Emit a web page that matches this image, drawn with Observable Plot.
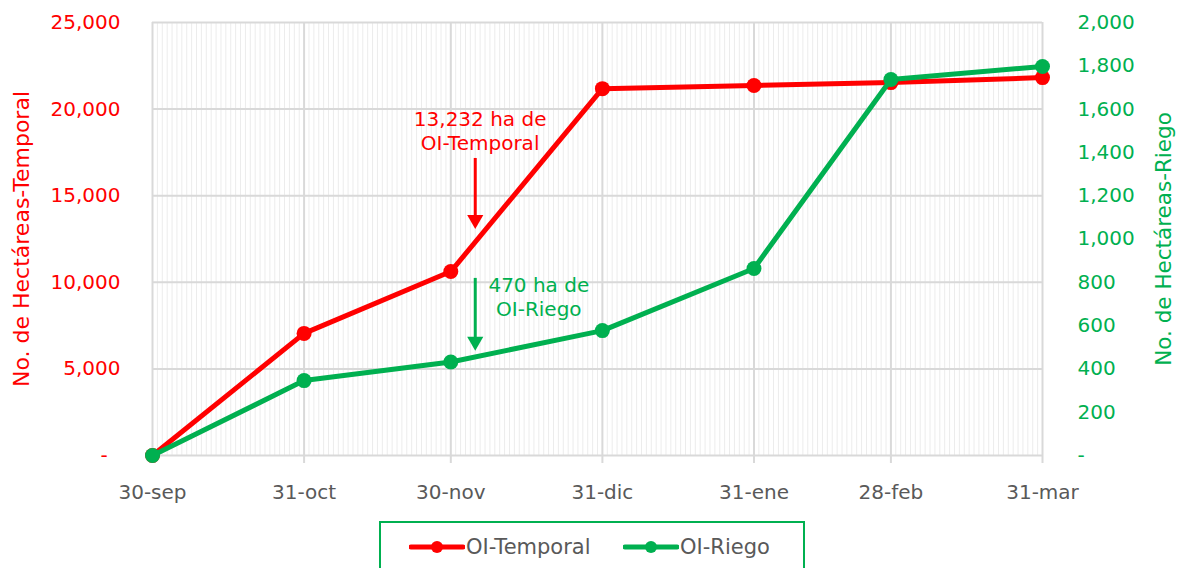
<!DOCTYPE html>
<html>
<head>
<meta charset="utf-8">
<script src="https://cdn.jsdelivr.net/npm/d3@7"></script>
<script src="https://cdn.jsdelivr.net/npm/@observablehq/plot@0.6"></script>
<style>
  html, body { margin: 0; padding: 0; background: #fff; }
  #wrap { position: relative; width: 1178px; height: 568px; overflow: hidden; font-family: "DejaVu Sans", sans-serif; }
  #legend { position: absolute; left: 379px; top: 521px; width: 426px; height: 60px; border: 2px solid #00b050; box-sizing: border-box; background: #fff; }
  .item { position: absolute; top: 12px; display: flex; align-items: center; font-size: 21px; color: #595959; }
  .item svg { margin-right: 1px; }
</style>
</head>
<body>
<div id="wrap"><div id="chart"></div><div id="legend"></div></div>
<script>
// ---- data ----
const dates = ["2022-09-30", "2022-10-31", "2022-11-30", "2022-12-31", "2023-01-31", "2023-02-28", "2023-03-31"];
const xTickLabels = ["30-sep", "31-oct", "30-nov", "31-dic", "31-ene", "28-feb", "31-mar"];
const temporal = [0, 7050, 10620, 21180, 21360, 21530, 21820];
const riego = [0, 346, 432, 577, 864, 1737, 1797];
const leftTicks = [0, 5000, 10000, 15000, 20000, 25000];
const rightTicks = [0, 200, 400, 600, 800, 1000, 1200, 1400, 1600, 1800, 2000];
const seriesNames = ["OI-Temporal", "OI-Riego"];
const axisTitles = ["No. de Hectáreas-Temporal", "No. de Hectáreas-Riego"];
// annotations (date, value on own series scale)
const annTemporal = { text: "13,232 ha de\nOI-Temporal", date: "2022-12-06", value: 18790, arrowDate: "2022-12-05", from: 17150, to: 13100 };
const annRiego = { text: "470 ha de\nOI-Riego", date: "2022-12-18", value: 735, arrowDate: "2022-12-05", from: 818, to: 485 };

const RED = "#ff0000", GREEN = "#00b050", GRID = "#d9d9d9", TXT = "#595959";
const ratio = leftTicks[leftTicks.length - 1] / rightTicks[rightTicks.length - 1];
const parse = d3.utcParse("%Y-%m-%d");
const dateObjs = dates.map(parse);
const labelOf = new Map(dateObjs.map((d, i) => [+d, xTickLabels[i]]));
const fmt = d3.format(",");
const tickFmt = v => v === 0 ? "-\u00a0\u00a0" : fmt(v);

const tData = dateObjs.map((d, i) => ({ date: d, value: temporal[i] }));
const rData = dateObjs.map((d, i) => ({ date: d, value: riego[i] * ratio }));
const days = d3.utcDay.range(dateObjs[0], d3.utcDay.offset(dateObjs[dateObjs.length - 1], 1));

function arrowMarks(a, scale, color) {
  const d = parse(a.arrowDate);
  return [
    Plot.ruleX([d], { x: v => v, y1: a.from * scale, y2: a.to * scale, stroke: color, strokeWidth: 3, insetBottom: 8 }),
    Plot.dot([d], { x: v => v, y: a.to * scale, symbol: "triangle", rotate: 180, r: 6, fill: color, dy: -9 }),
    Plot.text([a.text], { x: parse(a.date), y: a.value * scale, text: v => v, fill: color, fontSize: 20, lineHeight: 1.22 })
  ];
}

const chart = Plot.plot({
  width: 1178,
  height: 515,
  marginLeft: 152,
  marginRight: 136,
  marginTop: 22,
  marginBottom: 60,
  style: { fontFamily: "DejaVu Sans, sans-serif", fontSize: "20px", background: "transparent", overflow: "visible" },
  x: { type: "utc", domain: [dateObjs[0], dateObjs[dateObjs.length - 1]], axis: null },
  y: { domain: [leftTicks[0], leftTicks[leftTicks.length - 1]], axis: null },
  marks: [
    Plot.ruleX(days, { stroke: "#ececec", strokeWidth: 1 }),
    Plot.ruleY(leftTicks, { stroke: GRID, strokeWidth: 2 }),
    Plot.ruleX(dateObjs, { stroke: GRID, strokeWidth: 2 }),
    Plot.axisX({ ticks: dateObjs, tickFormat: d => labelOf.get(+d), tickSize: 8, tickPadding: 21, stroke: GRID, strokeWidth: 2, fill: TXT, fontSize: 20, label: null }),
    Plot.axisY({ anchor: "left", ticks: leftTicks, tickFormat: tickFmt, tickSize: 0, tickPadding: 32, fill: RED, fontSize: 20, label: null }),
    Plot.axisY({ anchor: "left", ticks: [], fill: RED, fontSize: 22,
      label: axisTitles[0], labelAnchor: "center", labelArrow: "none", labelOffset: 139 }),
    Plot.axisY({ anchor: "right", ticks: rightTicks.map(v => v * ratio), tickFormat: v => v === 0 ? "-" : fmt(v / ratio), tickSize: 0, tickPadding: 35, fill: GREEN, fontSize: 20, label: null }),
    Plot.axisY({ anchor: "right", ticks: [], fill: GREEN, fontSize: 21.5,
      label: axisTitles[1], labelAnchor: "center", labelArrow: "none", labelOffset: 128 }),
    Plot.line(tData, { x: "date", y: "value", stroke: RED, strokeWidth: 5 }),
    Plot.dot(tData, { x: "date", y: "value", r: 7.5, fill: RED }),
    Plot.line(rData, { x: "date", y: "value", stroke: GREEN, strokeWidth: 5 }),
    Plot.dot(rData, { x: "date", y: "value", r: 7.5, fill: GREEN }),
    ...arrowMarks(annTemporal, 1, RED),
    ...arrowMarks(annRiego, ratio, GREEN)
  ]
});
document.getElementById("chart").appendChild(chart);

// legend
const legend = document.getElementById("legend");
const swatch = c => `<svg width="56" height="14"><line x1="2" y1="7" x2="54" y2="7" stroke="${c}" stroke-width="5" stroke-linecap="round"/><circle cx="28" cy="7" r="6" fill="${c}"/></svg>`;
[[seriesNames[0], RED, 28], [seriesNames[1], GREEN, 242]].forEach(([name, c, left]) => {
  const el = document.createElement("div");
  el.className = "item";
  el.style.left = left + "px";
  el.innerHTML = swatch(c) + `<span>${name}</span>`;
  legend.appendChild(el);
});
</script>
</body>
</html>
